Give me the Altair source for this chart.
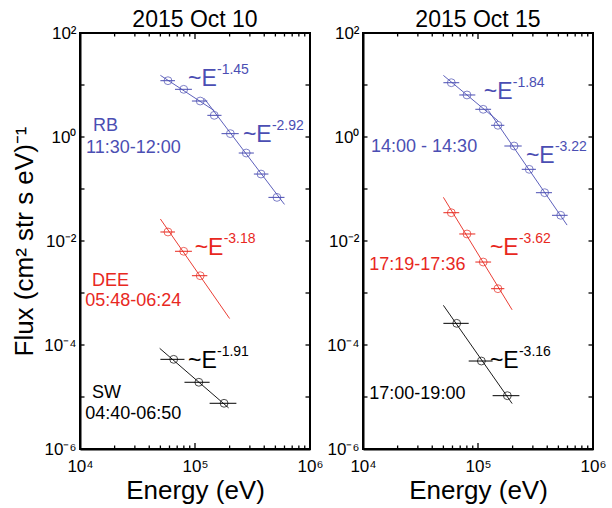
import altair as alt
import pandas as pd

FONT = "Liberation Sans"
BLUE = "#4b4eb3"
RED = "#e8281e"
BLACK = "#000000"

# ---------------- 2015 Oct 10 ----------------
rb10_energy = [58200, 79800, 111000, 147000, 203000, 279000, 375000, 516000]
rb10_flux = [12.1, 8.26, 4.92, 2.61, 1.16, 0.492, 0.194, 0.069]
rb10_lo = [50000, 67000, 94000, 128000, 170000, 240000, 325000, 435000]
rb10_hi = [67000, 94000, 128000, 170000, 240000, 325000, 435000, 600000]

dee10_energy = [58200, 79800, 111000]
dee10_flux = [0.0149, 0.00634, 0.00215]
dee10_lo = [50000, 67000, 94000]
dee10_hi = [67000, 94000, 128000]

sw10_energy = [65300, 108000, 179000]
sw10_flux = [5.3e-5, 1.92e-5, 7.57e-6]
sw10_lo = [50000, 81000, 134000]
sw10_hi = [81000, 134000, 229000]

# ---------------- 2015 Oct 15 ----------------
rb15_energy = [58600, 80200, 111000, 149000, 206000, 279000, 380000, 524000]
rb15_flux = [11.07, 6.43, 3.41, 1.68, 0.671, 0.239, 0.0849, 0.0312]
rb15_lo = [50000, 68700, 94800, 130000, 169500, 240000, 319000, 440000]
rb15_hi = [68700, 94800, 130000, 169500, 240000, 319000, 440000, 602000]

dee15_energy = [58600, 80200, 111000, 149000]
dee15_flux = [0.035, 0.01365, 0.00394, 0.00121]
dee15_lo = [50000, 68700, 94800, 130000]
dee15_hi = [68700, 94800, 130000, 169500]

sw15_energy = [65300, 107000, 180000]
sw15_flux = [2.61e-4, 4.92e-5, 1.06e-5]
sw15_lo = [50000, 83000, 134000]
sw15_hi = [83000, 134000, 229000]

# power-law fits: (group, spectral index, E start, E end, flux at E start)
fits10 = [
    ("RB", 1.45, 50000, 147000, 15.35),
    ("RB", 2.92, 120000, 600000, 5.55),
    ("DEE", 3.18, 50000, 200000, 0.0265),
    ("SW", 1.91, 49300, 196000, 8.63e-5),
]
fits15 = [
    ("RB", 1.84, 50000, 150000, 15.3),
    ("RB", 3.22, 123000, 595000, 3.24),
    ("DEE", 3.62, 50000, 198000, 0.0692),
    ("SW", 3.16, 50000, 198000, 5.79e-4),
]

# fit labels: (group, E, flux, exponent text)
powers10 = [
    ("RB", 86900, 9.57, "-1.45"),
    ("RB", 261000, 0.813, "-2.92"),
    ("DEE", 99300, 0.00538, "-3.18"),
    ("SW", 86900, 3.56e-5, "-1.91"),
]
powers15 = [
    ("RB", 112200, 5.31, "-1.84"),
    ("RB", 261000, 0.321, "-3.22"),
    ("DEE", 127000, 0.00538, "-3.62"),
    ("SW", 127000, 3.56e-5, "-3.16"),
]

# interval labels: (group, E, flux, text)
labels10 = [
    ("RB", 12980, 1.30, "RB"),
    ("RB", 11280, 0.499, "11:30-12:00"),
    ("DEE", 12700, 1.36e-3, "DEE"),
    ("DEE", 11120, 5.62e-4, "05:48-06:24"),
    ("SW", 12700, 9.44e-6, "SW"),
    ("SW", 11120, 3.72e-6, "04:40-06:50"),
]
labels15 = [
    ("RB", 11750, 0.522, "14:00 - 14:30"),
    ("DEE", 11350, 2.77e-3, "17:19-17:36"),
    ("SW", 11350, 9.04e-6, "17:00-19:00"),
]

X_MIN, X_MAX = 1e4, 1e6
Y_MIN, Y_MAX = 1e-6, 1e2
x_major = [1e4, 1e5, 1e6]
x_minor = [m * d for d in (1e4, 1e5) for m in range(2, 10)]
y_decades = [10.0 ** k for k in range(-6, 3)]
y_labelled = [1e-6, 1e-4, 1e-2, 1.0, 1e2]

W, H = 230, 416
PX_PER_DEC_X = W / 2.0
PX_PER_DEC_Y = H / 8.0
color_scale = alt.Scale(domain=["RB", "DEE", "SW", "frame"],
                        range=[BLUE, RED, BLACK, BLACK])

SUP = {"-": "\u207b", "0": "\u2070", "1": "\u00b9", "2": "\u00b2", "3": "\u00b3",
       "4": "\u2074", "5": "\u2075", "6": "\u2076"}


def sup(s):
    return "".join(SUP[c] for c in s)


x_label_expr = " : ".join(
    f"datum.value == {v:g} ? '10{sup(str(k))}'" for v, k in zip(x_major, (4, 5, 6))
) + " : ''"
y_label_expr = " : ".join(
    f"datum.value == {v:g} ? '10{sup(str(k))}'" for v, k in zip(y_labelled, (-6, -4, -2, 0, 2))
) + " : ''"


def points_frame(series):
    rows = []
    for group, E, F, lo, hi in series:
        for e, f, l, h in zip(E, F, lo, hi):
            rows.append({"group": group, "E": e, "F": f, "lo": l, "hi": h})
    return pd.DataFrame(rows)


def fits_frame(fits):
    rows = []
    for i, (group, idx, e0, e1, f0) in enumerate(fits):
        f1 = f0 * (e1 / e0) ** (-idx)
        rows.append({"fit": i, "group": group, "E": e0, "F": f0})
        rows.append({"fit": i, "group": group, "E": e1, "F": f1})
    return pd.DataFrame(rows)


def border_frame():
    """Plot border as four data-space segments."""
    segs = [
        (X_MIN, X_MAX, Y_MIN, Y_MIN),
        (X_MIN, X_MAX, Y_MAX, Y_MAX),
        (X_MIN, X_MIN, Y_MIN, Y_MAX),
        (X_MAX, X_MAX, Y_MIN, Y_MAX),
    ]
    df = pd.DataFrame(segs, columns=["ea", "eb", "fa", "fb"])
    df["group"] = "frame"
    return df


def ticks_frame():
    """Inward ticks on all four sides, as data-space segments."""
    segs = []
    for v in x_major + x_minor:
        ln = 6 if v in x_major else 3.5
        f = 10 ** (ln / PX_PER_DEC_Y)
        segs.append((v, v, Y_MIN, Y_MIN * f))
        segs.append((v, v, Y_MAX / f, Y_MAX))
    g = 10 ** (4.5 / PX_PER_DEC_X)
    for v in y_decades:
        segs.append((X_MIN, X_MIN * g, v, v))
        segs.append((X_MAX / g, X_MAX, v, v))
    df = pd.DataFrame(segs, columns=["ea", "eb", "fa", "fb"])
    df["group"] = "frame"
    return df


def panel(series, fits, powers, labels, title, y_title):
    xs = alt.Scale(type="log", domain=[X_MIN, X_MAX], nice=False, padding=0)
    ys = alt.Scale(type="log", domain=[Y_MIN, Y_MAX], nice=False, padding=0)
    x_axis = alt.Axis(values=x_major, labelExpr=x_label_expr, title="Energy (eV)",
                      ticks=False, domain=True, domainColor="black", domainWidth=2,
                      grid=False, labelPadding=9,
                      labelFontSize=17, titleFontSize=26, titlePadding=3,
                      titleFontWeight="normal", labelFont=FONT, titleFont=FONT,
                      labelColor="black", titleColor="black",
                      labelFlush=False, labelOverlap=False)
    y_axis = alt.Axis(values=y_labelled, labelExpr=y_label_expr,
                      title=y_title if y_title else None,
                      ticks=False, domain=True, domainColor="black", domainWidth=2,
                      grid=False, labelPadding=4,
                      labelFontSize=17, titleFontSize=26, titlePadding=6,
                      titleFontWeight="normal", labelFont=FONT, titleFont=FONT,
                      labelColor="black", titleColor="black",
                      labelFlush=False, labelOverlap=False)

    pts = points_frame(series)
    base = alt.Chart(pts)
    color = alt.Color("group:N", scale=color_scale, legend=None)

    fit_layer = alt.Chart(fits_frame(fits)).mark_line(strokeWidth=0.9).encode(
        x=alt.X("E:Q", scale=xs, axis=x_axis),
        y=alt.Y("F:Q", scale=ys, axis=y_axis),
        detail="fit:N",
        color=color,
    )
    err = base.mark_rule(strokeWidth=1).encode(
        x=alt.X("lo:Q", scale=xs), x2="hi:Q", y=alt.Y("F:Q", scale=ys), color=color
    )
    dots = base.mark_point(shape="circle", filled=False, size=62, strokeWidth=1).encode(
        x=alt.X("E:Q", scale=xs), y=alt.Y("F:Q", scale=ys), color=color
    )

    pw = pd.DataFrame(powers, columns=["group", "E", "F", "exp"])
    tilde = alt.Chart(pw).mark_text(align="left", baseline="alphabetic", fontSize=23,
                                    font=FONT).encode(
        x=alt.X("E:Q", scale=xs), y=alt.Y("F:Q", scale=ys), color=color,
        text=alt.value("~E"),
    )
    expo = alt.Chart(pw).mark_text(align="left", baseline="alphabetic", fontSize=14,
                                   font=FONT, dx=29, dy=-12).encode(
        x=alt.X("E:Q", scale=xs), y=alt.Y("F:Q", scale=ys), color=color,
        text="exp:N",
    )

    lb = pd.DataFrame(labels, columns=["group", "E", "F", "txt"])
    lab = alt.Chart(lb).mark_text(align="left", baseline="alphabetic", fontSize=18,
                                  font=FONT).encode(
        x=alt.X("E:Q", scale=xs), y=alt.Y("F:Q", scale=ys), color=color,
        text="txt:N",
    )

    border = alt.Chart(border_frame()).mark_rule(strokeWidth=2).encode(
        x=alt.X("ea:Q", scale=xs), x2="eb:Q",
        y=alt.Y("fa:Q", scale=ys), y2="fb:Q",
        color=color,
    )
    ticks = alt.Chart(ticks_frame()).mark_rule(strokeWidth=1.3).encode(
        x=alt.X("ea:Q", scale=xs), x2="eb:Q",
        y=alt.Y("fa:Q", scale=ys), y2="fb:Q",
        color=color,
    )

    return alt.layer(
        fit_layer, err, dots, tilde, expo, lab, border, ticks,
    ).properties(
        width=W, height=H,
        title=alt.Title(title, fontSize=23, font=FONT, fontWeight="normal",
                        color="black", offset=-8),
    )


left = panel(
    [("RB", rb10_energy, rb10_flux, rb10_lo, rb10_hi),
     ("DEE", dee10_energy, dee10_flux, dee10_lo, dee10_hi),
     ("SW", sw10_energy, sw10_flux, sw10_lo, sw10_hi)],
    fits10, powers10, labels10, "2015 Oct 10",
    "Flux (cm\u00b2 str s eV)\u207b\u00b9",
)
right = panel(
    [("RB", rb15_energy, rb15_flux, rb15_lo, rb15_hi),
     ("DEE", dee15_energy, dee15_flux, dee15_lo, dee15_hi),
     ("SW", sw15_energy, sw15_flux, sw15_lo, sw15_hi)],
    fits15, powers15, labels15, "2015 Oct 15", None,
)

chart = alt.hconcat(left, right, spacing=1).properties(
    padding={"left": 10, "top": 8, "right": 0, "bottom": 0},
    background="white",
).configure_view(
    stroke="black", strokeWidth=2
)

chart.save("out.html", embed_options={"renderer": "svg", "actions": False})
